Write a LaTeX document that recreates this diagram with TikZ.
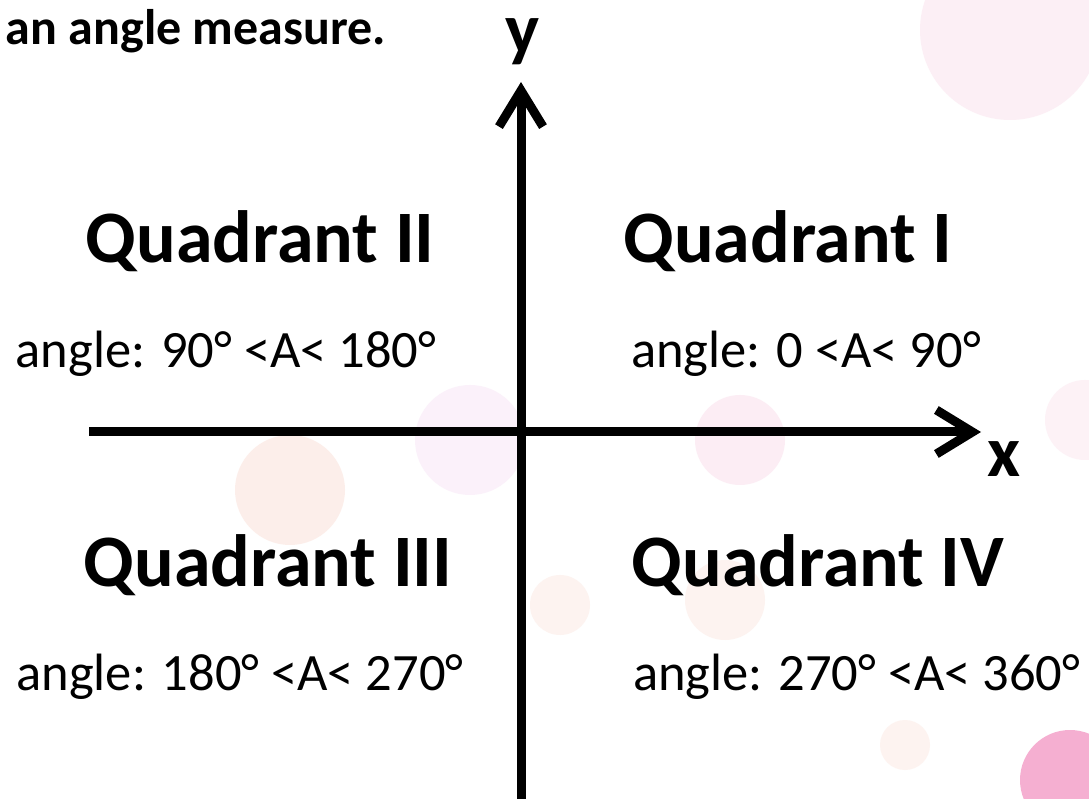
\documentclass[tikz,border=0pt]{standalone}
\usepackage{fontspec}
\setmainfont{Carlito}
\usepackage{tikz}
\usetikzlibrary{arrows.meta}
\definecolor{QDPink}{HTML}{F2A9C9}
\definecolor{QDLilac}{HTML}{E9B3E6}
\definecolor{QDSalmon}{HTML}{F7BFAE}
\definecolor{QDRose}{HTML}{E8388C}

\tikzset{
  quadtitle/.style={anchor=base,inner sep=0pt,font=\fontsize{74}{80}\selectfont\bfseries},
  anglerange/.style={anchor=base,inner sep=0pt,font=\fontsize{52.5}{58}\selectfont},
  axislabel/.style={anchor=base,inner sep=0pt,text height=0.5em,font=\fontsize{72}{80}\selectfont\bfseries},
  axisline/.style={line width=9pt,-{Straight Barb[length=36pt,width=44pt,line width=9pt]}}
}

\begin{document}
\begin{tikzpicture}[x=1pt,y=1pt]
\path[use as bounding box] (0,0) rectangle (1089,798);
\clip (0,0) rectangle (1089,798);
\fill[white] (0,0) rectangle (1089,798);
% faint background blobs
\fill[QDPink,opacity=.18] (1010,768) circle (90);
\fill[QDPink,opacity=.15] (1085,378) circle (40);
\fill[QDLilac,opacity=.18] (470,358) circle (55);
\fill[QDSalmon,opacity=.25] (290,308) circle (55);
\fill[QDPink,opacity=.20] (740,358) circle (45);
\fill[QDSalmon,opacity=.18] (560,193) circle (30);
\fill[QDSalmon,opacity=.18] (725,198) circle (40);
\fill[QDSalmon,opacity=.18] (905,53) circle (25);
\fill[QDRose,opacity=.40] (1070,18) circle (50);
% axes
\coordinate (xStart) at (89,366);
\coordinate (xEnd) at (981,366);
\coordinate (yStart) at (521,-10);
\coordinate (yEnd) at (521,716);
\draw[axisline] (xStart) -- (xEnd);
\draw[axisline] (yStart) -- (yEnd);
\node[axislabel] (labX) at (1004,321) {x};
\node[axislabel] (labY) at (523,744) {y};
% heading at the top left
\node[anchor=base east,inner sep=0pt,text height=0.7em,font=\fontsize{50}{56}\selectfont\bfseries] (heading) at (386,753) {an angle measure.};
% quadrants
\node[quadtitle] (quadII) at (260,535) {Quadrant II};
\node[quadtitle] (quadI) at (788,535) {Quadrant I};
\node[quadtitle] (quadIII) at (268,211) {Quadrant III};
\node[quadtitle] (quadIV) at (818,211) {Quadrant IV};
\node[anglerange] (angII) at (226,430) {angle: 90° <A< 180°};
\node[anglerange] (angI) at (806,430) {angle: 0 <A< 90°};
\node[anglerange] (angIII) at (240,108) {angle: 180° <A< 270°};
\node[anglerange,anchor=base west] (angIV) at (633,108) {angle: 270° <A< 360°};
\end{tikzpicture}
\end{document}
